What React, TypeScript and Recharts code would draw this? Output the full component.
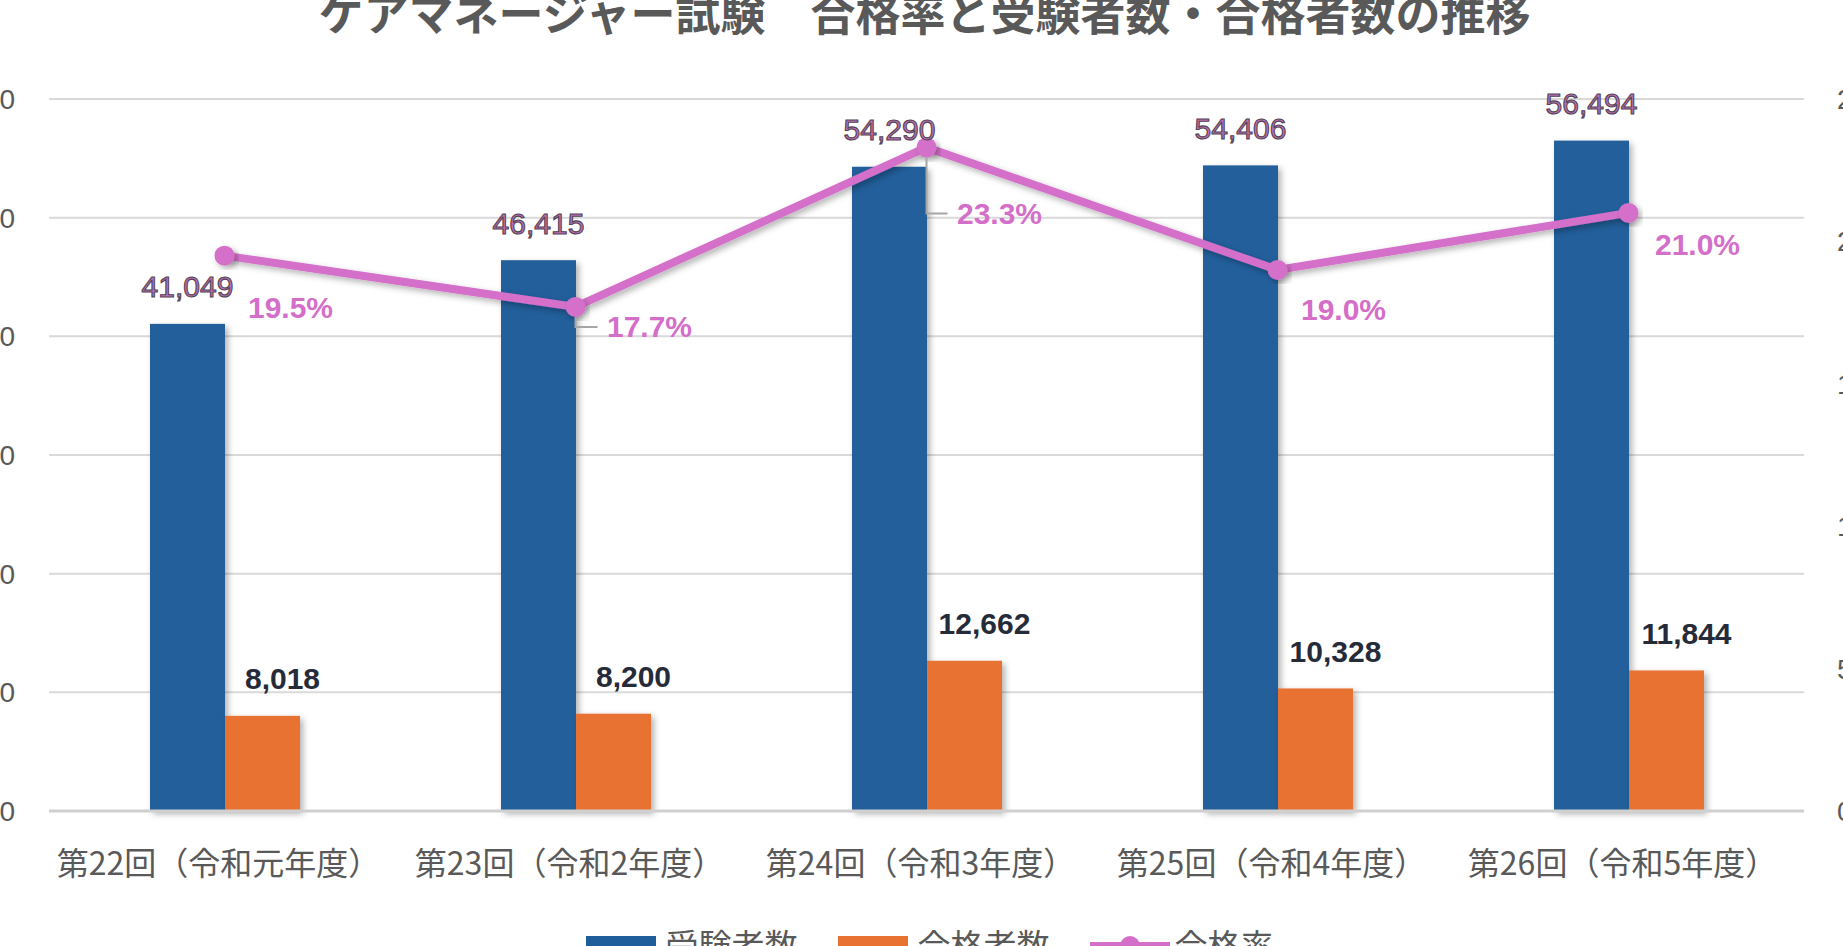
import React from "react";
import {
  ComposedChart,
  Bar,
  Line,
  XAxis,
  YAxis,
  CartesianGrid,
  LabelList,
} from "recharts";

const categories = [
  "第22回（令和元年度）",
  "第23回（令和2年度）",
  "第24回（令和3年度）",
  "第25回（令和4年度）",
  "第26回（令和5年度）",
];
const examinees = [41049, 46415, 54290, 54406, 56494];
const passers = [8018, 8200, 12662, 10328, 11844];
const passRate = [19.5, 17.7, 23.3, 19.0, 21.0];

const countTicks = [0, 10000, 20000, 30000, 40000, 50000, 60000];
const rateTicks = [0, 5, 10, 15, 20, 25];

// hand-placed rate labels, as in the source chart (dx, dy, leader line)
const rateLabelNudge: [number, number, boolean][] = [
  [66, 52, false],
  [74, 20, true],
  [73, 66, true],
  [66, 40, false],
  [69, 32, false],
];

const BLUE = "#205e9b";
const ORANGE = "#e87232";
const PINK = "#d46fc9";
const GRAY = "#595959";

const W = 1843;
const H = 946;

const data = categories.map((name, i) => ({
  name,
  examinees: examinees[i],
  passers: passers[i],
  rate: passRate[i],
}));

const fmt = (v: number) => v.toLocaleString("en-US");

function XTick({ x, y, payload }: any) {
  return (
    <text
      x={x - 6}
      y={y + 50}
      textAnchor="middle"
      dominantBaseline="central"
      fontSize={32}
      fill={GRAY}
      fontFamily="Noto Sans CJK JP"
    >
      {payload.value}
    </text>
  );
}

function ShadowBar(props: any) {
  const { x, y, width, height, fill } = props;
  return <rect x={x} y={y} width={width} height={height} fill={fill} filter="url(#softShadow)" />;
}

function ExamineeLabel(props: any) {
  const { x, y, width, value } = props;
  return (
    <text
      x={x + width / 2}
      y={y - 37}
      textAnchor="middle"
      dominantBaseline="central"
      fontSize={30}
      fontFamily="Liberation Sans"
      fill="#c26fba"
      stroke="#4f4450"
      strokeWidth={1.1}
    >
      {fmt(value)}
    </text>
  );
}

function PasserLabel(props: any) {
  const { x, y, width, value } = props;
  return (
    <text
      x={x + width / 2 + 20}
      y={y - 37}
      textAnchor="middle"
      dominantBaseline="central"
      fontSize={30}
      fontWeight="bold"
      fontFamily="Liberation Sans"
      fill="#262b3a"
    >
      {fmt(value)}
    </text>
  );
}

function RateLabel(props: any) {
  const { x, y, value, index } = props;
  const [dx, dy, leader] = rateLabelNudge[index];
  const lx = x + dx;
  const ly = y + dy;
  return (
    <g>
      {leader && (
        <polyline
          points={`${x},${y + 10} ${x},${ly} ${lx - 52},${ly}`}
          fill="none"
          stroke="#a6a6a6"
          strokeWidth={2}
        />
      )}
      <text
        x={lx}
        y={ly}
        textAnchor="middle"
        dominantBaseline="central"
        fontSize={30}
        fontWeight="bold"
        fontFamily="Liberation Sans"
        fill={PINK}
      >
        {value.toFixed(1)}%
      </text>
    </g>
  );
}

function LegendItem({ color, label, line }: { color: string; label: string; line?: boolean }) {
  return (
    <div style={{ display: "flex", alignItems: "flex-start", marginRight: line ? 0 : 40 }}>
      {line ? (
        <svg width={80} height={24} style={{ marginTop: 6, marginRight: 5 }}>
          <line x1={0} y1={12} x2={80} y2={12} stroke={color} strokeWidth={8} />
          <circle cx={40} cy={12} r={10} fill={color} />
        </svg>
      ) : (
        <div style={{ width: 70, height: 24, background: color, marginTop: 8, marginRight: 10 }} />
      )}
      <span style={{ fontSize: 33, lineHeight: "33px", color: GRAY }}>{label}</span>
    </div>
  );
}

export default function App() {
  return (
    <div
      style={{
        position: "absolute",
        left: 0,
        top: 0,
        width: W,
        height: H,
        overflow: "hidden",
        background: "#fff",
        fontFamily: "Noto Sans CJK JP",
      }}
    >
      <svg width={0} height={0} style={{ position: "absolute" }}>
        <defs>
          <filter id="softShadow" x="-20%" y="-20%" width="140%" height="140%">
            <feDropShadow dx={3} dy={3} stdDeviation={3} floodColor="#000" floodOpacity={0.3} />
          </filter>
        </defs>
      </svg>

      <div
        style={{
          position: "absolute",
          left: 3,
          top: -11,
          width: W,
          textAlign: "center",
          fontSize: 45,
          lineHeight: "45px",
          fontWeight: "bold",
          color: GRAY,
          whiteSpace: "nowrap",
        }}
      >
        ケアマネージャー試験　合格率と受験者数・合格者数の推移
      </div>

      <ComposedChart
        width={W}
        height={H}
        data={data}
        barGap={0}
        margin={{ top: 99, right: 0, bottom: 75, left: 0 }}
      >
        <CartesianGrid yAxisId="left" vertical={false} stroke="#d9d9d9" strokeWidth={2} />
        <XAxis
          dataKey="name"
          height={60}
          tickLine={false}
          tickSize={0}
          tickMargin={0}
          axisLine={{ stroke: "#d0d0d0", strokeWidth: 3 }}
          tick={<XTick />}
          interval={0}
        />
        <YAxis
          yAxisId="left"
          width={49}
          domain={[0, 60000]}
          ticks={countTicks}
          tickFormatter={fmt}
          axisLine={false}
          tickLine={false}
          tickSize={0}
          tickMargin={34}
          tick={{ fill: GRAY, fontSize: 28, fontFamily: "Liberation Sans" }}
        />
        <YAxis
          yAxisId="right"
          orientation="right"
          width={39}
          domain={[0, 25]}
          ticks={rateTicks}
          tickFormatter={(v) => `${v}%`}
          axisLine={false}
          tickLine={false}
          tickSize={0}
          tickMargin={33}
          tick={{ fill: GRAY, fontSize: 28, fontFamily: "Liberation Sans" }}
        />
        <Bar
          yAxisId="left"
          dataKey="examinees"
          name="受験者数"
          fill={BLUE}
          barSize={75}
          shape={<ShadowBar />}
          isAnimationActive={false}
        >
          <LabelList dataKey="examinees" content={<ExamineeLabel />} />
        </Bar>
        <Bar
          yAxisId="left"
          dataKey="passers"
          name="合格者数"
          fill={ORANGE}
          barSize={75}
          shape={<ShadowBar />}
          isAnimationActive={false}
        >
          <LabelList dataKey="passers" content={<PasserLabel />} />
        </Bar>
        <Line
          yAxisId="right"
          dataKey="rate"
          name="合格率"
          type="linear"
          stroke={PINK}
          strokeWidth={8}
          dot={{ r: 10, fill: PINK, stroke: "none", strokeWidth: 0 }}
          filter="url(#softShadow)"
          isAnimationActive={false}
        >
          <LabelList dataKey="rate" content={<RateLabel />} />
        </Line>
      </ComposedChart>

      <div
        style={{
          position: "absolute",
          left: 8,
          top: 928,
          width: W,
          display: "flex",
          justifyContent: "center",
        }}
      >
        <LegendItem color={BLUE} label="受験者数" />
        <LegendItem color={ORANGE} label="合格者数" />
        <LegendItem color={PINK} label="合格率" line />
      </div>
    </div>
  );
}
